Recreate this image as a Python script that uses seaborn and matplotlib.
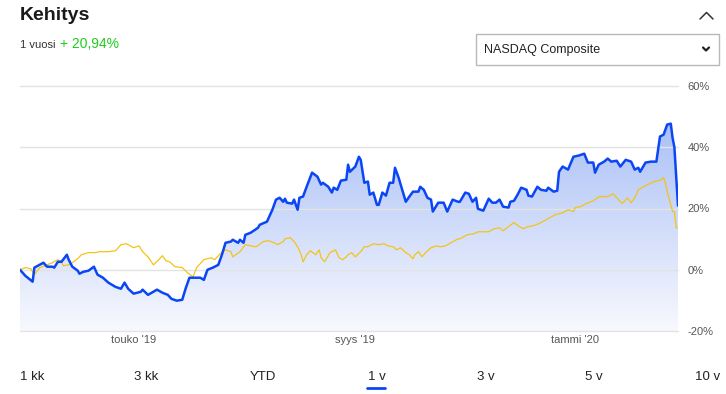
import numpy as np
import pandas as pd
import matplotlib
matplotlib.use("Agg")
import matplotlib.pyplot as plt
import matplotlib.dates as mdates
from matplotlib.patches import Polygon, Rectangle
from matplotlib.lines import Line2D
from matplotlib.colors import LinearSegmentedColormap
import seaborn as sns

# Dados: dias desde o inicio (27.2.2019) e muutos-%
start_date = "2019-02-27"

stock_days = [0, 3, 7, 8, 13, 15, 18, 19, 21, 23, 26, 27, 29, 32, 33, 35, 38, 41, 43, 46,
              49, 53, 56, 58, 60, 63, 67, 68, 71, 74, 76, 79, 82, 84, 87, 90, 92, 94, 97, 100,
              102, 104, 107, 110, 112, 114, 117, 118, 121, 122, 124, 125, 128, 132, 133, 137, 140, 142, 144, 146,
              147, 148, 151, 152, 154, 155, 157, 159, 162, 165, 167, 168, 171, 173, 174, 176, 178, 181, 182, 183,
              186, 188, 189, 191, 193, 194, 196, 198, 199, 201, 203, 205, 207, 208, 210, 212, 214, 216, 218, 221,
              222, 224, 226, 228, 229, 232, 235, 237, 240, 243, 244, 247, 249, 251, 253, 254, 257, 260, 262, 264,
              266, 268, 271, 272, 274, 276, 278, 281, 282, 284, 287, 289, 292, 293, 296, 298, 299, 301, 304, 307,
              310, 313, 315, 318, 319, 321, 324, 326, 328, 331, 333, 336, 339, 341, 343, 344, 347, 350, 353, 355,
              357, 359, 361, 362, 363, 365]
stock_pct = [0.0, -2.0, -3.9, 0.7, 2.3, 1.0, 1.0, 0.7, 2.6, 2.6, 4.9, 3.3, 1.0, -0.3, -1.3, -0.7, -0.3, 1.0, -1.6, -2.6,
             -4.2, -5.6, -6.2, -4.2, -6.2, -7.8, -7.2, -6.5, -8.2, -7.2, -6.5, -7.5, -8.2, -9.5, -10.1, -9.8, -5.9, -2.6, -2.6, -2.6,
             -3.3, 0.0, 0.7, 1.6, 4.9, 8.8, 9.2, 9.8, 8.8, 9.8, 8.8, 11.4, 12.1, 13.7, 14.7, 15.7, 19.6, 22.9, 23.5, 22.2,
             23.2, 21.9, 21.6, 22.9, 19.6, 23.5, 23.9, 27.1, 31.7, 30.4, 27.8, 28.4, 27.1, 25.2, 26.8, 26.1, 29.1, 29.4, 34.3, 32.0,
             33.7, 36.9, 35.9, 28.4, 28.8, 24.5, 25.2, 21.2, 21.2, 25.2, 24.2, 28.4, 28.4, 33.3, 30.1, 26.1, 22.2, 23.9, 25.5, 25.5,
             27.1, 26.1, 23.5, 22.9, 19.0, 21.9, 21.9, 19.0, 22.9, 22.2, 22.2, 25.2, 24.8, 22.2, 23.5, 19.9, 19.3, 23.2, 21.9, 21.9,
             22.9, 20.6, 20.3, 22.2, 22.5, 24.5, 26.8, 26.1, 24.2, 23.9, 27.1, 26.1, 25.8, 26.8, 25.5, 25.8, 32.0, 33.7, 32.7, 36.9,
             37.3, 37.9, 35.0, 35.0, 31.7, 34.3, 35.3, 36.3, 35.3, 35.6, 33.7, 35.9, 35.3, 32.7, 33.3, 32.0, 35.0, 35.3, 35.3, 43.5,
             44.1, 47.4, 47.7, 43.0, 40.0, 20.94]

index_days = [0, 3, 6, 8, 11, 15, 18, 21, 23, 24, 27, 29, 32, 34, 38, 42, 44, 49, 53, 56,
              59, 63, 66, 68, 71, 74, 77, 79, 81, 83, 86, 90, 93, 96, 98, 102, 106, 108, 111, 114,
              117, 118, 122, 125, 128, 131, 135, 138, 141, 143, 146, 147, 150, 152, 154, 156, 157, 159, 161, 164,
              166, 167, 169, 172, 175, 177, 179, 181, 182, 184, 186, 189, 191, 193, 196, 199, 202, 204, 207, 209,
              211, 214, 216, 218, 219, 221, 223, 225, 228, 231, 233, 236, 239, 243, 244, 248, 252, 254, 257, 260,
              263, 266, 268, 271, 274, 277, 279, 282, 285, 289, 293, 297, 301, 304, 307, 308, 311, 314, 318, 321,
              323, 326, 329, 332, 334, 337, 339, 341, 343, 346, 348, 352, 356, 357, 358, 359, 362, 363, 364, 365]
index_pct = [0.0, 0.7, 0.3, -1.6, 0.7, 1.6, 2.3, 3.3, 2.6, 1.3, 1.6, 2.3, 3.6, 4.9, 5.6, 5.6, 5.9, 5.9, 6.2, 8.2,
             8.5, 7.2, 7.8, 5.9, 4.2, 1.6, 3.3, 4.6, 2.9, 2.6, 1.0, 0.7, -1.0, -2.3, 0.7, 3.3, 3.9, 3.3, 5.2, 6.5,
             5.9, 4.2, 5.9, 8.2, 7.8, 7.5, 9.2, 9.5, 8.8, 8.2, 9.2, 10.1, 10.5, 9.2, 7.5, 4.9, 2.6, 4.9, 6.2, 4.9,
             6.5, 3.9, 2.6, 5.6, 6.5, 3.9, 3.3, 4.2, 4.9, 5.6, 4.2, 5.9, 7.5, 7.5, 8.5, 8.2, 8.5, 7.8, 7.5, 6.5,
             7.2, 5.6, 4.9, 3.6, 4.9, 5.9, 4.2, 5.6, 7.2, 7.8, 7.5, 7.8, 8.8, 10.1, 10.1, 11.4, 11.8, 12.4, 12.4, 12.4,
             13.4, 13.7, 12.7, 14.1, 15.4, 14.1, 13.4, 14.1, 14.4, 15.4, 16.7, 18.0, 18.6, 19.6, 19.0, 20.3, 20.6, 21.6, 22.5, 23.8,
             23.9, 23.9, 24.8, 22.9, 21.6, 23.5, 21.9, 23.5, 26.1, 27.1, 27.8, 28.8, 29.4, 30.1, 28.4, 25.5, 19.0, 19.0, 13.7, 13.7]

y_ticks = [-20, 0, 20, 40, 60]
y_tick_labels = ["-20%", "0%", "20%", "40%", "60%"]
x_tick_dates = ["2019-05-01", "2019-09-01", "2020-01-01"]
x_tick_labels = ["touko '19", "syys '19", "tammi '20"]
period_tabs = ["1 kk", "3 kk", "YTD", "1 v", "3 v", "5 v", "10 v"]
tab_x_px = [20, 134, 250, 368, 477, 585, 695]

W, H = 726, 394
BLUE = "#0a46f5"
YELLOW = "#f3c417"


def fx(px):
    return px / W


def fy(py):
    return 1 - py / H


sns.set_style("white")
plt.rcParams["font.family"] = ["Liberation Sans", "DejaVu Sans"]

fig = plt.figure(figsize=(W / 100, H / 100), dpi=100)
ax = fig.add_axes([fx(20), fy(331), (678 - 20) / W, (331 - 86) / H])

start = pd.Timestamp(start_date)
stock_dates = start + pd.to_timedelta(stock_days, unit="D")
index_dates = start + pd.to_timedelta(index_days, unit="D")

sns.lineplot(x=index_dates, y=index_pct, color=YELLOW, linewidth=0.9, ax=ax, zorder=3)
sns.lineplot(x=stock_dates, y=stock_pct, color=BLUE, linewidth=1.8, ax=ax, zorder=4)

# liukuväri viivan alle
xnum = mdates.date2num(stock_dates)
verts = [(xnum[0], -20)] + list(zip(xnum, stock_pct)) + [(xnum[-1], -20)]
clip = Polygon(verts, closed=True, facecolor="none", edgecolor="none", transform=ax.transData)
ax.add_patch(clip)
cmap = LinearSegmentedColormap.from_list("fade", ["#f8f9fe", "#aac0f6"])
grad = np.linspace(0, 1, 256).reshape(-1, 1)
im = ax.imshow(grad, extent=[xnum[0], xnum[-1], -20, max(stock_pct)], origin="lower",
               aspect="auto", cmap=cmap, zorder=1)
im.set_clip_path(clip)

for yv in y_ticks:
    ax.axhline(yv, color="#e3e3e3", linewidth=1, zorder=2, clip_on=False)

ax.set_xlim(xnum[0], xnum[-1])
ax.set_ylim(-20, 60)
ax.yaxis.tick_right()
ax.set_yticks(y_ticks)
ax.set_yticklabels(y_tick_labels)
ax.set_xticks(mdates.date2num(pd.to_datetime(x_tick_dates)))
ax.set_xticklabels(x_tick_labels)
ax.tick_params(axis="both", length=0, labelsize=8, labelcolor="#555555")
ax.tick_params(axis="y", pad=7)
ax.tick_params(axis="x", pad=3)
ax.set_xlabel("")
ax.set_ylabel("")
for s in ax.spines.values():
    s.set_visible(False)
ax.set_facecolor("none")

# otsikko ja tuotto
fig.text(fx(20), fy(15), "Kehitys", fontsize=14, fontweight="bold", color="#1a1a1a", va="center")
fig.text(fx(20), fy(44.5), "1 vuosi", fontsize=8, color="#333333", va="center")
fig.text(fx(60), fy(44), "+ 20,94%", fontsize=10, color="#1fcc1f", va="center")

# valintalaatikko
fig.add_artist(Rectangle((fx(476), fy(65)), (719 - 476) / W, 31 / H, transform=fig.transFigure,
                         facecolor="white", edgecolor="#b8b8b8", linewidth=1))
fig.text(fx(484), fy(49.5), "NASDAQ Composite", fontsize=9, color="#222222", va="center")
fig.add_artist(Line2D([fx(703), fx(706), fx(709)], [fy(47.5), fy(50.5), fy(47.5)],
                      transform=fig.transFigure, color="#222222", linewidth=1.6))
fig.add_artist(Line2D([fx(700), fx(706.5), fx(713)], [fy(19), fy(12.5), fy(19)],
                      transform=fig.transFigure, color="#333333", linewidth=1.1))

# aikavälit
for lab, px in zip(period_tabs, tab_x_px):
    fig.text(fx(px), fy(377), lab, fontsize=9.5, color="#222222", va="center")
fig.add_artist(Line2D([fx(367), fx(385)], [fy(388), fy(388)], transform=fig.transFigure,
                      color=BLUE, linewidth=2))

fig.savefig("out.png", dpi=100, facecolor="white")
